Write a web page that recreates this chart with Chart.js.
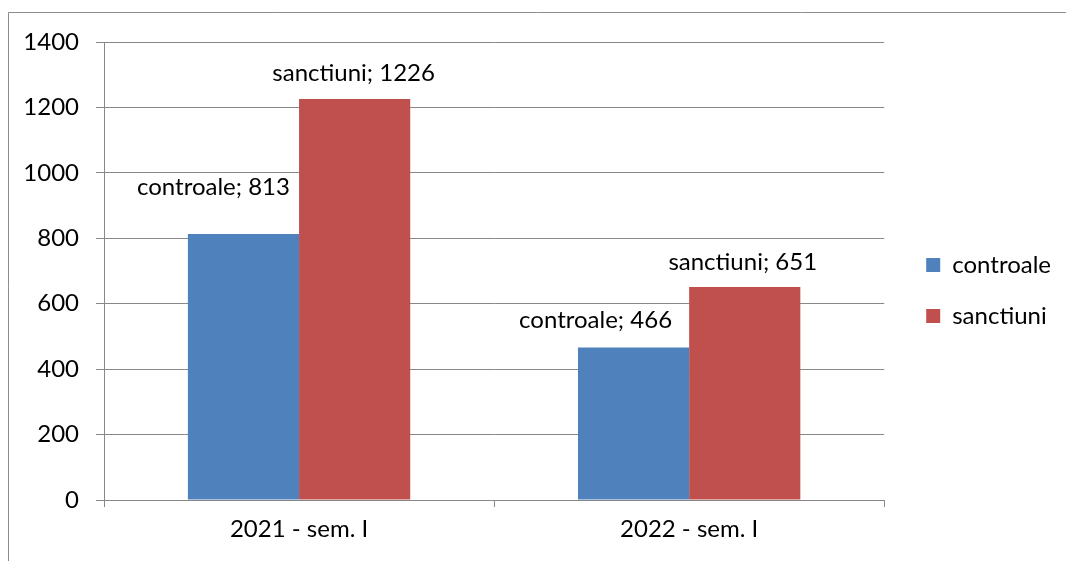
<!DOCTYPE html>
<html>
<head>
<meta charset="utf-8">
<script src="https://cdn.jsdelivr.net/npm/chart.js@4"></script>
<style>
    html, body { margin: 0; padding: 0; background: #fff; }
    #wrap { width: 1066px; height: 561px; position: relative; }
</style>
</head>
<body>
<div id="wrap"><canvas id="barChart" width="1066" height="561"></canvas></div>
<script>
// ================= DATA =================
const periods = ["2021 - sem. I", "2022 - sem. I"];
const controale = [813, 466];
const sanctiuni = [1226, 651];
const yTicks = [0, 200, 400, 600, 800, 1000, 1200, 1400];

const FONT = "Lato, 'Open Sans', sans-serif";
const FONT_SIZE = 24;

// label nudges (px) so the value labels sit where the original put them
const labelShift = [
    [{ dx: -30, dy: -47 }, { dx: -38, dy: -27 }],
    [{ dx: -1, dy: -26 }, { dx: -2, dy: -25 }]
];

// outer frame of the chart object
const framePlugin = {
    id: "frame",
    beforeDraw(chart) {
        const c = chart.ctx;
        c.save();
        c.fillStyle = "#fff";
        c.fillRect(0, 0, chart.width, chart.height);
        c.strokeStyle = "#8c8c8c";
        c.lineWidth = 1;
        c.beginPath();
        c.moveTo(8.5, chart.height);
        c.lineTo(8.5, 12.5);
        c.lineTo(chart.width, 12.5);
        c.stroke();
        c.restore();
    }
};

// move legend a bit away from the plot
const legendShift = {
    id: "legendShift",
    afterLayout(chart) {
        const lg = chart.legend;
        const dx = chart.chartArea.right + 15 - lg.left;
        lg.left += dx;
        lg.right += dx;
        lg.top -= 11;
        lg.bottom -= 11;
    }
};

const valueLabels = {
    id: "valueLabels",
    afterDatasetsDraw(chart) {
        const c = chart.ctx;
        c.save();
        c.font = FONT_SIZE + "px " + FONT;
        c.fillStyle = "#000";
        c.textAlign = "center";
        c.textBaseline = "middle";
        chart.data.datasets.forEach(function (ds, i) {
            chart.getDatasetMeta(i).data.forEach(function (bar, j) {
                const s = labelShift[i][j];
                c.fillText(ds.label + "; " + ds.data[j], bar.x + s.dx, bar.y + s.dy);
            });
        });
        c.restore();
    }
};

const ctx = document.getElementById("barChart").getContext("2d");
new Chart(ctx, {
    type: "bar",
    data: {
        labels: periods,
        datasets: [
            {
                label: "controale",
                data: controale,
                backgroundColor: "#4F81BD",
                barPercentage: 1,
                categoryPercentage: 0.57
            },
            {
                label: "sanctiuni",
                data: sanctiuni,
                backgroundColor: "#C0504D",
                barPercentage: 1,
                categoryPercentage: 0.57
            }
        ]
    },
    options: {
        responsive: false,
        animation: false,
        layout: { padding: { top: 42, right: 20, bottom: 0, left: 0 } },
        plugins: {
            tooltip: { enabled: false },
            legend: {
                position: "right",
                labels: {
                    boxWidth: 14,
                    boxHeight: 14,
                    padding: 27,
                    color: "#000",
                    font: { family: FONT, size: FONT_SIZE }
                }
            }
        },
        scales: {
            x: {
                grid: {
                    offset: true,
                    drawOnChartArea: false,
                    drawTicks: true,
                    tickLength: 7,
                    color: "#888"
                },
                border: { color: "#888" },
                ticks: {
                    color: "#000",
                    padding: 8,
                    font: { family: FONT, size: FONT_SIZE }
                },
                afterFit(scale) { scale.height = 61; }
            },
            y: {
                min: 0,
                max: 1400,
                afterBuildTicks(scale) {
                    scale.ticks = yTicks.map(v => ({ value: v }));
                },
                grid: { color: "#888", tickLength: 8 },
                border: { color: "#888" },
                ticks: {
                    color: "#000",
                    padding: 17,
                    font: { family: FONT, size: FONT_SIZE },
                    callback: v => String(v)
                },
                afterFit(scale) { scale.width = 104; }
            }
        }
    },
    plugins: [framePlugin, legendShift, valueLabels]
});
</script>
</body>
</html>
